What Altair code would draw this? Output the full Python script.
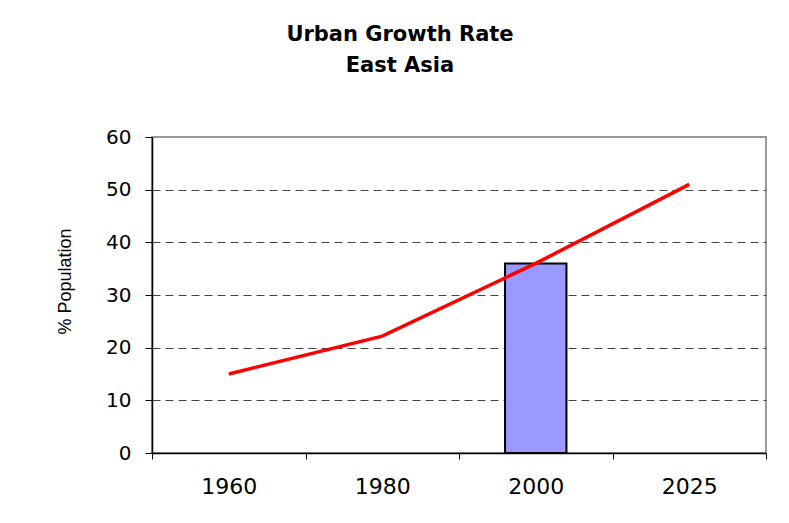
import altair as alt
import pandas as pd

years = ["1960", "1980", "2000", "2025"]
urban_pct = [15, 22.2, 36, 51]
bar_year = ["2000"]
bar_value = [36]

line_df = pd.DataFrame({"year": years, "pct": urban_pct})
bar_df = pd.DataFrame({"year": bar_year, "pct": bar_value})

x_enc = alt.X(
    "year:N",
    sort=years,
    scale=alt.Scale(domain=years, paddingInner=0, paddingOuter=0),
    axis=alt.Axis(
        title=None,
        labelAngle=0,
        tickBand="extent",
        domainColor="black",
        domainWidth=1.5,
        tickColor="black",
        tickSize=6,
        labelFont="DejaVu Sans",
        labelFontSize=22,
        labelColor="black",
        labelPadding=17,
        grid=False,
    ),
)

y_enc = alt.Y(
    "pct:Q",
    scale=alt.Scale(domain=[0, 60], nice=False),
    axis=alt.Axis(
        title="% Population",
        values=[0, 10, 20, 30, 40, 50, 60],
        domainColor="black",
        domainWidth=1.5,
        tickColor="black",
        tickSize=7,
        labelFont="DejaVu Sans",
        labelFontSize=20,
        labelColor="black",
        labelPadding=14,
        grid=True,
        gridColor="#444444",
        gridDash=[8, 5],
        gridWidth=1,
        gridOpacity={"condition": {"test": "datum.value >= 60 || datum.value <= 0", "value": 0}, "value": 1},
        titleFont="Liberation Sans",
        titleFontSize=18,
        titleFontWeight="normal",
        titleColor="black",
        titleX=-87,
        titleY=144,
        titleAlign="center",
        titleBaseline="middle",
    ),
)

bars = alt.Chart(bar_df).mark_bar(
    width={"band": 0.4}, color="#9999FF", stroke="black", strokeWidth=2
).encode(x=x_enc, y=y_enc)

line = alt.Chart(line_df).mark_line(color="#FF0000", strokeWidth=3.5).encode(
    x=alt.X("year:N", sort=years), y="pct:Q"
)

chart = (
    alt.layer(bars, line)
    .properties(
        width=614,
        height=316,
        autosize=alt.AutoSizeParams(type="none"),
        padding={"left": 144, "top": 129, "right": 15, "bottom": 62},
        background="white",
        title=alt.TitleParams(
            text=["Urban Growth Rate", "East Asia"],
            font="DejaVu Sans",
            fontSize=21,
            fontWeight="bold",
            color="black",
            lineHeight=31,
            anchor="middle",
            dx=-59,
            offset=51,
        ),
    )
    .configure_view(stroke="#999999", strokeWidth=2)
)

chart.save("out.html", embed_options={"renderer": "svg", "actions": False})
